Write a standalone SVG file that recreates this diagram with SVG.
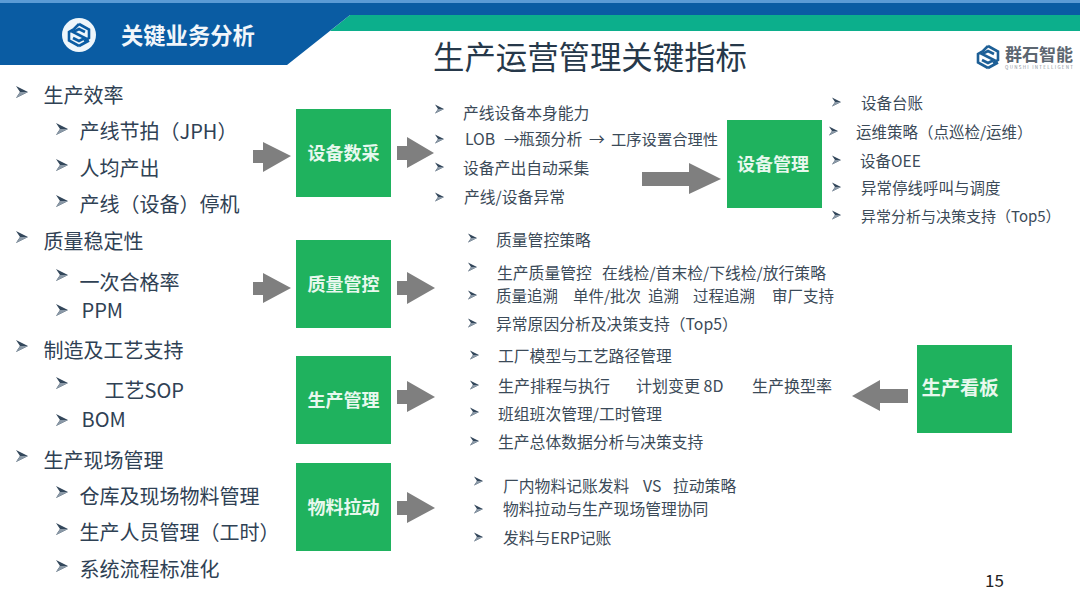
<svg xmlns="http://www.w3.org/2000/svg" xmlns:xlink="http://www.w3.org/1999/xlink" width="1080" height="608" viewBox="0 0 1080 608">
<style>
text{font-family:"Noto Sans CJK SC","Noto Sans",sans-serif;fill:#2f4154;white-space:pre}
.l{font-size:20px}
.r{font-size:15.800px;fill:#3b4a58}
.s{font-size:15.500px;fill:#3b4a58}
.b{font-size:18px;font-weight:700;fill:#e8f8ee;text-anchor:middle}
.box{fill:#1fb25e}
.ar{fill:#7f7f7f}
</style>
<defs>
<g id="bu"><path d="M0-6 L12 0 L0 6 L4 0Z" fill="#33475b"/><path d="M0 6 L12 0 L4 0Z" fill="#8a98a6"/></g>
<g id="bs"><path d="M0-4.500 L9 0 L0 4.500 L3 0Z" fill="#33475b"/><path d="M0 4.500 L9 0 L3 0Z" fill="#8a98a6"/></g>
<g id="logo" fill="none" stroke-width="2.600"><path d="M0-11 L10-5.500 L10 3 L5 6 M0 11 L-10 5.500 L-10-3 L-5-6 L0-11 M0 11 L10 5.500" /><path d="M6-3 L0-6 L-6-3 L6 3 L0 6 L-6 3"/></g>
</defs>
<rect width="1080" height="608" fill="#fff"/>
<g id="header">
<rect width="1080" height="3" fill="#5b9bd5"/>
<path d="M330 31 L350 15 H1080 V31Z" fill="#0caf8c"/>
<path d="M0 3 H1080 V15 H350 L287 65 H0Z" fill="#0a5ca3"/>
<circle cx="79" cy="35" r="17" fill="#eef6fb"/>
<use xlink:href="#logo" href="#logo" x="79" y="35" stroke="#0a5ca3"/>
<text x="121" y="44" style="font-size:22.300px;font-weight:700;fill:#f2f6fa">关键业务分析</text>
<use xlink:href="#logo" href="#logo" x="988" y="57" stroke="#1d5f96"/>
<text x="1005" y="61" style="font-size:17px;font-weight:700;fill:#5c6670">群石智能</text>
<text x="1005" y="69" style="font-size:4.500px;fill:#8a929a" textLength="68">QUNSHI INTELLIGENT</text>
<text x="433" y="69" style="font-size:31.400px;fill:#26384a">生产运营管理关键指标</text>
<text x="985" y="587" style="font-size:17px;fill:#222">15</text>
</g>
<g id="connectors">
<path class="ar" d="M253 150 H263 V142 L291 156 L263 172 V163 H253Z"/>
<path class="ar" d="M397 146 H407 V137 L434 153 L407 168 V160 H397Z"/>
<path class="ar" d="M642 172 H689 V163 L721 179 L689 194 V186 H642Z"/>
<path class="ar" d="M253 282 H263 V273 L291 288 L263 303 V295 H253Z"/>
<path class="ar" d="M397 281 H407 V272 L435 288 L407 304 V295 H397Z"/>
<path class="ar" d="M397 390 H407 V381 L435 397 L407 412 V404 H397Z"/>
<path class="ar" d="M397 501 H407 V492 L435 508 L407 523 V515 H397Z"/>
<path class="ar" d="M908 389 H880 V380 L852 396 L880 411 V403 H908Z"/>
</g>
<g id="n1"><rect class="box" x="296" y="109" width="95" height="88"/><text class="b" x="343.500" y="160">设备数采</text></g>
<g id="n2"><rect class="box" x="727" y="120" width="95" height="88"/><text class="b" x="773" y="171">设备管理</text></g>
<g id="n3"><rect class="box" x="296" y="240" width="95" height="88"/><text class="b" x="343.500" y="291">质量管控</text></g>
<g id="n4"><rect class="box" x="296" y="356" width="95" height="88"/><text class="b" x="343.500" y="407">生产管理</text></g>
<g id="n5"><rect class="box" x="296" y="463" width="95" height="88"/><text class="b" x="343.500" y="514">物料拉动</text></g>
<g id="n6"><rect class="box" x="917" y="345" width="95" height="88"/><text class="b" x="960" y="395" style="font-size:19.300px">生产看板</text></g>
<g id="left-list">
<use xlink:href="#bu" href="#bu" x="16" y="92"/><text class="l" x="43.500" y="103">生产效率</text>
<use xlink:href="#bu" href="#bu" x="56" y="129"/><text class="l" x="79.500" y="139">产线节拍（JPH）</text>
<use xlink:href="#bu" href="#bu" x="56" y="165"/><text class="l" x="79.500" y="176">人均产出</text>
<use xlink:href="#bu" href="#bu" x="56" y="201"/><text class="l" x="79.500" y="212">产线（设备）停机</text>
<use xlink:href="#bu" href="#bu" x="16" y="237"/><text class="l" x="43.500" y="249">质量稳定性</text>
<use xlink:href="#bu" href="#bu" x="56" y="275"/><text class="l" x="79.500" y="290">一次合格率</text>
<use xlink:href="#bu" href="#bu" x="56" y="310"/><text class="l" x="81.500" y="318">PPM</text>
<use xlink:href="#bu" href="#bu" x="16" y="346"/><text class="l" x="43.500" y="358">制造及工艺支持</text>
<use xlink:href="#bu" href="#bu" x="56" y="383"/><text class="l" x="104.500" y="398">工艺SOP</text>
<use xlink:href="#bu" href="#bu" x="56" y="420"/><text class="l" x="81.500" y="427">BOM</text>
<use xlink:href="#bu" href="#bu" x="16" y="456"/><text class="l" x="43.500" y="468">生产现场管理</text>
<use xlink:href="#bu" href="#bu" x="56" y="492"/><text class="l" x="79.500" y="504">仓库及现场物料管理</text>
<use xlink:href="#bu" href="#bu" x="56" y="529"/><text class="l" x="79.500" y="540">生产人员管理（工时）</text>
<use xlink:href="#bu" href="#bu" x="56" y="566"/><text class="l" x="79.500" y="577">系统流程标准化</text>
</g>
<g id="right-lists">
<use xlink:href="#bs" href="#bs" x="435" y="109"/><text class="r" x="463" y="119">产线设备本身能力</text>
<use xlink:href="#bs" href="#bs" x="435" y="139"/><text class="r" x="465" y="145">LOB <tspan x="504">→</tspan><tspan x="519">瓶颈分析</tspan> <tspan x="589">→</tspan> <tspan x="611" style="font-size:15.300px">工序设置合理性</tspan></text>
<use xlink:href="#bs" href="#bs" x="435" y="167"/><text class="r" x="463" y="174">设备产出自动采集</text>
<use xlink:href="#bs" href="#bs" x="435" y="197"/><text class="r" x="464" y="203">产线/设备异常</text>
<use xlink:href="#bs" href="#bs" x="832" y="102"/><text class="s" x="861" y="109">设备台账</text>
<use xlink:href="#bs" href="#bs" x="829" y="131"/><text class="s" x="856" y="138">运维策略（点巡检/运维）</text>
<use xlink:href="#bs" href="#bs" x="832" y="160"/><text class="s" x="860" y="167">设备OEE</text>
<use xlink:href="#bs" href="#bs" x="832" y="187"/><text class="s" x="861" y="194">异常停线呼叫与调度</text>
<use xlink:href="#bs" href="#bs" x="832" y="215"/><text class="s" x="861" y="222" style="font-size:15px">异常分析与决策支持（Top5）</text>
<use xlink:href="#bs" href="#bs" x="468" y="238"/><text class="r" x="496" y="246">质量管控策略</text>
<use xlink:href="#bs" href="#bs" x="468" y="267"/><text class="r" x="497" y="279">生产质量管控 <tspan x="602">在线检/首末检/下线检/放行策略</tspan></text>
<use xlink:href="#bs" href="#bs" x="468" y="295"/><text class="s" x="496" y="302">质量追溯 <tspan x="573">单件/批次</tspan> <tspan x="648">追溯</tspan> <tspan x="693">过程追溯</tspan> <tspan x="772">审厂支持</tspan></text>
<use xlink:href="#bs" href="#bs" x="468" y="323"/><text class="r" x="496" y="330">异常原因分析及决策支持（Top5）</text>
<use xlink:href="#bs" href="#bs" x="470" y="355"/><text class="r" x="498" y="362">工厂模型与工艺路径管理</text>
<use xlink:href="#bs" href="#bs" x="470" y="385"/><text class="r" x="498" y="392" style="font-size:16px">生产排程与执行 <tspan x="636">计划变更 8D</tspan> <tspan x="752">生产换型率</tspan></text>
<use xlink:href="#bs" href="#bs" x="470" y="412"/><text class="r" x="498" y="420">班组班次管理/工时管理</text>
<use xlink:href="#bs" href="#bs" x="470" y="441"/><text class="r" x="498" y="448">生产总体数据分析与决策支持</text>
<use xlink:href="#bs" href="#bs" x="474" y="481"/><text class="r" x="503" y="492">厂内物料记账发料 <tspan x="643">VS</tspan> <tspan x="673">拉动策略</tspan></text>
<use xlink:href="#bs" href="#bs" x="474" y="509"/><text class="r" x="503" y="515">物料拉动与生产现场管理协同</text>
<use xlink:href="#bs" href="#bs" x="474" y="537"/><text class="r" x="503" y="544">发料与ERP记账</text>
</g>
</svg>
